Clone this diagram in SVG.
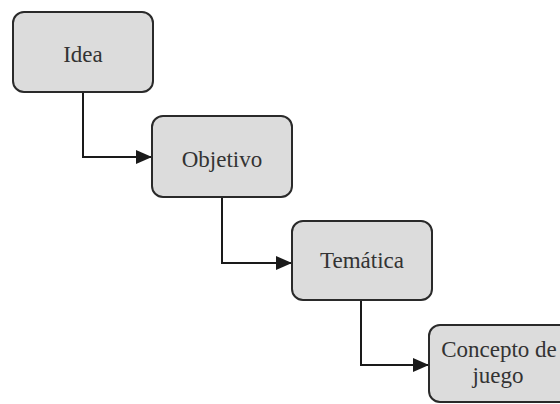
<svg xmlns="http://www.w3.org/2000/svg" width="560" height="404" viewBox="0 0 560 404">
<style>
.box{fill:#dcdcdc;stroke:#2a2a2a;stroke-width:2}
.lbl{font-family:"Liberation Serif","Times New Roman",serif;font-size:23px;fill:#333;text-anchor:middle}
.conn{fill:none;stroke:#1a1a1a;stroke-width:2}
</style>
<defs>
<marker id="arr" viewBox="0 0 16 14" refX="16" refY="7" markerWidth="16" markerHeight="14" markerUnits="userSpaceOnUse" orient="auto">
<path d="M0,0 L16,7 L0,14 z" fill="#1a1a1a"/>
</marker>
</defs>
<rect width="560" height="404" fill="#ffffff"/>
<g id="connectors">
<path class="conn" d="M83,92 V157 H152" marker-end="url(#arr)"/>
<path class="conn" d="M222,197 V263 H292" marker-end="url(#arr)"/>
<path class="conn" d="M361,300 V365 H429" marker-end="url(#arr)"/>
</g>
<g id="idea">
<rect class="box" x="13" y="12" width="140" height="80" rx="11"/>
<text class="lbl" x="83" y="62">Idea</text>
</g>
<g id="objetivo">
<rect class="box" x="152" y="116" width="140" height="81" rx="11"/>
<text class="lbl" x="222" y="167">Objetivo</text>
</g>
<g id="tematica">
<rect class="box" x="292" y="221" width="140" height="79" rx="11"/>
<text class="lbl" x="362" y="268">Temática</text>
</g>
<g id="concepto">
<rect class="box" x="429" y="325" width="150" height="77" rx="11"/>
<text class="lbl" x="499" y="357">Concepto de</text>
<text class="lbl" x="498" y="383">juego</text>
</g>
</svg>
